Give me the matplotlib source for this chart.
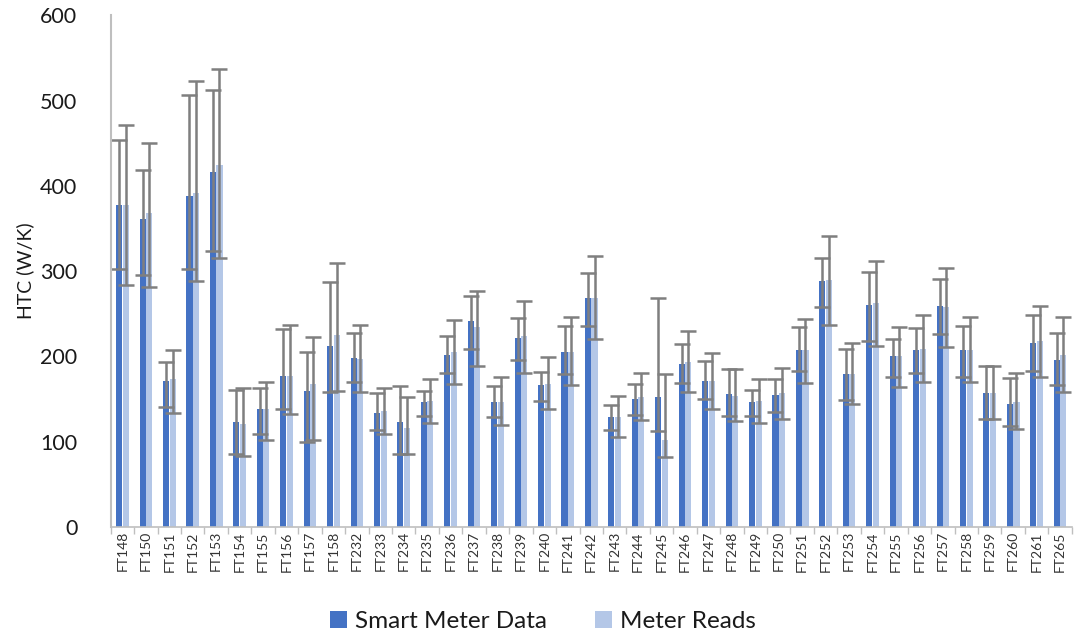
import matplotlib
matplotlib.use("Agg")
import matplotlib.pyplot as plt
import numpy as np

categories = ["FT148", "FT150", "FT151", "FT152", "FT153", "FT154", "FT155", "FT156", "FT157", "FT158",
              "FT232", "FT233", "FT234", "FT235", "FT236", "FT237", "FT238", "FT239", "FT240", "FT241",
              "FT242", "FT243", "FT244", "FT245", "FT246", "FT247", "FT248", "FT249", "FT250", "FT251",
              "FT252", "FT253", "FT254", "FT255", "FT256", "FT257", "FT258", "FT259", "FT260", "FT261", "FT265"]

smart_meter = [378, 361, 171, 388, 416, 123, 138, 177, 159, 212,
               198, 134, 123, 146, 202, 241, 146, 222, 166, 205,
               268, 129, 150, 152, 191, 171, 156, 146, 155, 208,
               289, 179, 260, 200, 207, 259, 207, 157, 144, 216, 196]
smart_low = [302, 295, 141, 302, 324, 86, 109, 138, 100, 158,
             170, 114, 86, 130, 180, 209, 129, 196, 148, 179,
             236, 114, 131, 113, 169, 150, 130, 130, 135, 183,
             258, 149, 218, 176, 180, 226, 176, 127, 118, 183, 166]
smart_high = [454, 419, 193, 507, 512, 161, 163, 232, 205, 287,
              227, 157, 165, 159, 224, 271, 165, 245, 182, 236,
              298, 143, 168, 269, 214, 195, 185, 161, 173, 234,
              316, 209, 299, 220, 233, 291, 236, 189, 175, 248, 228]

meter_reads = [377, 368, 173, 392, 424, 121, 138, 177, 168, 225,
               197, 136, 116, 148, 205, 234, 147, 224, 168, 205,
               268, 129, 153, 102, 194, 171, 154, 148, 157, 207,
               290, 179, 263, 200, 209, 258, 208, 157, 146, 218, 202]
meter_low = [284, 282, 134, 288, 316, 83, 102, 132, 102, 159,
             158, 109, 86, 122, 168, 189, 120, 181, 138, 166,
             220, 105, 125, 82, 158, 138, 124, 122, 127, 169,
             237, 144, 212, 164, 170, 211, 170, 127, 115, 176, 158]
meter_high = [471, 450, 207, 523, 537, 163, 170, 237, 223, 309,
              237, 163, 152, 173, 243, 277, 176, 265, 199, 246,
              318, 154, 180, 179, 230, 204, 185, 173, 186, 244,
              341, 216, 312, 234, 248, 304, 246, 189, 181, 259, 246]

sm = np.array(smart_meter, float)
mr = np.array(meter_reads, float)
sm_err = [sm - np.array(smart_low), np.array(smart_high) - sm]
mr_err = [mr - np.array(meter_low), np.array(meter_high) - mr]

plt.rcParams['font.family'] = ['Lato', 'DejaVu Sans']

fig = plt.figure(figsize=(10.75, 6.38), dpi=100)
ax = fig.add_axes([0.103, 0.174, 0.894, 0.802])

x = np.arange(len(categories))
w = 0.26
err_kw = dict(ecolor='#7f7f7f', elinewidth=1.8, capsize=5.5, capthick=1.8)
ax.bar(x - w / 2 - 0.01, sm, w, color='#4472C4', label='Smart Meter Data',
       yerr=sm_err, error_kw=err_kw, zorder=2)
ax.bar(x + w / 2 + 0.01, mr, w, color='#B4C7E7', label='Meter Reads',
       yerr=mr_err, error_kw=err_kw, zorder=2)

ax.set_xlim(-0.5, len(categories) - 0.5)
ax.set_ylim(0, 600)
ax.set_yticks(np.arange(0, 601, 100))
ax.tick_params(axis='y', length=0, labelsize=15.5, pad=24, labelcolor='#1a1a1a')
ax.set_ylabel('HTC (W/K)', fontsize=14, labelpad=4, color='#1a1a1a')

ax.set_xticks(x)
ax.set_xticklabels(categories, rotation=90, fontsize=10, color='#333333')
ax.tick_params(axis='x', which='major', length=0, pad=3)
ax.set_xticks(np.arange(-0.5, len(categories), 1), minor=True)
ax.tick_params(axis='x', which='minor', length=5, color='#bfbfbf', width=1)

for s in ['top', 'right']:
    ax.spines[s].set_visible(False)
ax.spines['left'].set_color('#bfbfbf')
ax.spines['left'].set_linewidth(1.5)
ax.spines['bottom'].set_color('#bfbfbf')
ax.spines['bottom'].set_linewidth(1.2)

leg = fig.legend(loc='lower center', bbox_to_anchor=(0.505, -0.025), ncol=2, frameon=False,
                 fontsize=17.5, handlelength=0.7, handleheight=0.7, handletextpad=0.3,
                 columnspacing=2.0, labelcolor='#1a1a1a')

fig.savefig('out.png', dpi=100)
